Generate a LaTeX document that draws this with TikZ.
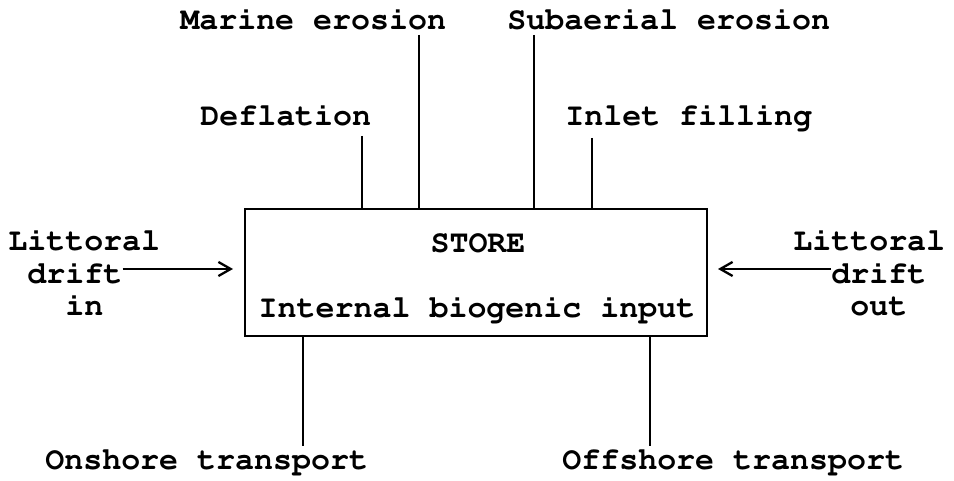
\documentclass[tikz,border=0pt]{standalone}
\usepackage[T1]{fontenc}
\usepackage{courier}
\usetikzlibrary{arrows.meta}

\tikzset{
  txt/.style={inner sep=0pt, font=\fontsize{18}{22}\selectfont\ttfamily\bfseries},
  wire/.style={line width=1.3pt},
  drift/.style={wire, -{Straight Barb[length=7pt, width=8pt, line width=1.3pt]}}
}

\begin{document}
\begin{tikzpicture}
	\useasboundingbox (0,0) rectangle (19.08,9.62);
	% Store box and its labels:
	\node[shape=rectangle, draw, line width=1.6pt, minimum width=9.24cm, minimum height=2.54cm] (store) at (9.52, 4.17){};
	\node[txt, anchor=base] (storetxt) at (9.56, 4.56){STORE};
	\node[txt, anchor=base] (biogenic) at (9.54, 3.27){Internal biogenic input};
	% Inputs from above:
	\node[txt, anchor=base west] (marine) at (3.6, 9.02){Marine erosion};
	\node[txt, anchor=base west] (subaerial) at (10.14, 9.02){Subaerial erosion};
	\node[txt, anchor=base west] (deflation) at (4.0, 7.1){Deflation};
	\node[txt, anchor=base west] (inlet) at (11.3, 7.1){Inlet filling};
	\coordinate (marinetop) at (8.38, 8.92);
	\coordinate (subaerialtop) at (10.68, 8.92);
	\coordinate (deflationtop) at (7.24, 6.9);
	\coordinate (inlettop) at (11.84, 6.86);
	\draw[wire] (marinetop) -- (marinetop |- store.north);
	\draw[wire] (subaerialtop) -- (subaerialtop |- store.north);
	\draw[wire] (deflationtop) -- (deflationtop |- store.north);
	\draw[wire] (inlettop) -- (inlettop |- store.north);
	% Littoral drift, both sides:
	\node[txt, anchor=base west] (littin) at (0.16, 4.6){Littoral};
	\node[txt, anchor=base west] (driftin) at (0.54, 3.94){drift};
	\node[txt, anchor=base west] (in) at (1.3, 3.3){in};
	\node[txt, anchor=base west] (littout) at (15.86, 4.6){Littoral};
	\node[txt, anchor=base west] (driftout) at (16.62, 3.94){drift};
	\node[txt, anchor=base west] (out) at (17.0, 3.3){out};
	\coordinate (inend) at (4.66, 4.24);
	\coordinate (outend) at (14.36, 4.24);
	\draw[drift] (driftin.east |- inend) -- (inend);
	\draw[drift] (driftout.west |- outend) -- (outend);
	% Outputs below:
	\node[txt, anchor=base west] (onshore) at (0.9, 0.22){Onshore transport};
	\node[txt, anchor=base west] (offshore) at (11.24, 0.22){Offshore transport};
	\coordinate (onshoreend) at (6.06, 0.7);
	\coordinate (offshoreend) at (13.0, 0.7);
	\draw[wire] (store.south -| onshoreend) -- (onshoreend);
	\draw[wire] (store.south -| offshoreend) -- (offshoreend);
\end{tikzpicture}
\end{document}
